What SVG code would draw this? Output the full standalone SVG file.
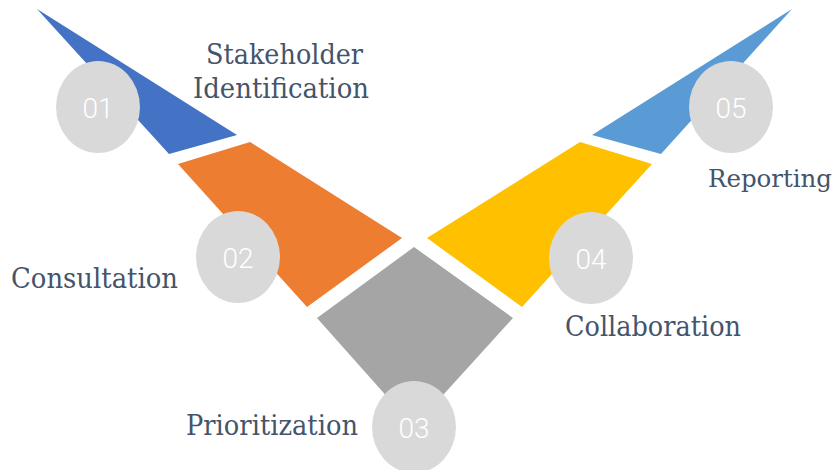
<svg xmlns="http://www.w3.org/2000/svg" width="838" height="470" viewBox="0 0 838 470">
<style>
.num{font-family:Roboto,"Liberation Sans",sans-serif;font-weight:300;font-size:28px;fill:#FFFFFF;text-anchor:middle}
.lbl{font-family:"DejaVu Serif","Liberation Serif",serif;font-weight:300;font-size:27px;fill:#44546A}
.circ{fill:#D9D9D9}
</style>
<rect width="838" height="470" fill="#FFFFFF"/>
<g id="shapes">
<polygon points="37,9 237,135 169,154" fill="#4472C4"/>
<polygon points="178,164 250,142 402,238 307,307" fill="#ED7D31"/>
<polygon points="414,247 513,318 414,427 317,318" fill="#A5A5A5"/>
<polygon points="427,238 580,142 652,164 522,307" fill="#FFC000"/>
<polygon points="792,9 592,135 661,154" fill="#5B9BD5"/>
</g>
<g id="node1">
<ellipse class="circ" cx="98" cy="107" rx="42" ry="46"/>
<text class="num" x="98" y="118">01</text>
<text class="lbl" x="206" y="64" textLength="157" lengthAdjust="spacingAndGlyphs">Stakeholder</text>
<text class="lbl" x="193" y="98" textLength="176" lengthAdjust="spacingAndGlyphs">Identification</text>
</g>
<g id="node2">
<ellipse class="circ" cx="238" cy="257" rx="42" ry="46"/>
<text class="num" x="238" y="268">02</text>
<text class="lbl" x="11" y="288" textLength="167" lengthAdjust="spacingAndGlyphs">Consultation</text>
</g>
<g id="node3">
<ellipse class="circ" cx="414" cy="427" rx="42" ry="46"/>
<text class="num" x="414" y="438">03</text>
<text class="lbl" x="186" y="435" textLength="172" lengthAdjust="spacingAndGlyphs">Prioritization</text>
</g>
<g id="node4">
<ellipse class="circ" cx="591" cy="258" rx="42" ry="46"/>
<text class="num" x="591" y="269">04</text>
<text class="lbl" x="565" y="336" textLength="176" lengthAdjust="spacingAndGlyphs">Collaboration</text>
</g>
<g id="node5">
<ellipse class="circ" cx="731" cy="107" rx="42" ry="46"/>
<text class="num" x="731" y="118">05</text>
<text class="lbl" x="708" y="187" style="font-size:25px" textLength="124" lengthAdjust="spacingAndGlyphs">Reporting</text>
</g>
</svg>
